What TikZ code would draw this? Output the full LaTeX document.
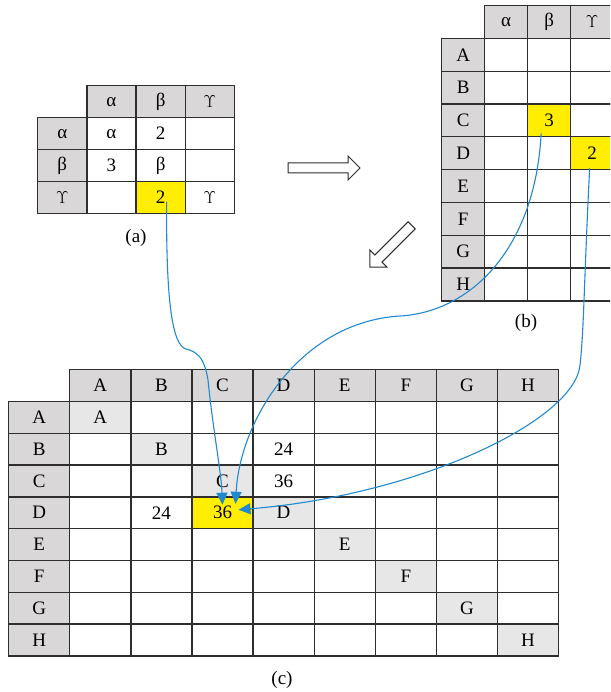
\documentclass[tikz,border=0pt]{standalone}
\usepackage{fontspec}
\setmainfont{Liberation Serif}
\usepackage{tikz}
\usepackage{xcolor}
\usetikzlibrary{arrows.meta, positioning, calc}
\definecolor{hdrgray}{HTML}{D9D7D8}
\definecolor{diaggray}{HTML}{E7E7E7}
\definecolor{hotyellow}{HTML}{FFEE00}
\definecolor{linkblue}{HTML}{2089D0}
\definecolor{gridline}{HTML}{2E2E2E}
\tikzstyle{cell} = [draw=gridline, line width=1.3pt, rectangle, anchor=north west, inner sep=0pt, fill=white, font=\fontsize{19}{21}\selectfont]
\tikzstyle{hdr} = [cell, fill=hdrgray]
\tikzstyle{diag} = [cell, fill=diaggray]
\tikzstyle{hot} = [cell, fill=hotyellow]
\tikzstyle{caption} = [font=\fontsize{19}{21}\selectfont]
\tikzstyle{link} = [draw=linkblue, line width=1.1pt, -{Triangle[length=12pt, width=11pt]}]
\tikzstyle{bigarrow} = [draw=gridline, line width=1pt, fill=white, line join=miter]

\begin{document}
\begin{tikzpicture}[x=1pt, y=-1pt,
    sa/.style={minimum width=49.2pt, minimum height=32pt},
    sb/.style={minimum width=43pt, minimum height=32.8pt},
    sc/.style={minimum width=61.1pt, minimum height=31.8pt}]
    \useasboundingbox (0,0) rectangle (610,692);
    \clip (0,0) rectangle (610,692);

    % table (a)
    \foreach \i in {1,2,3}
        \foreach \j in {1,2,3}
            \node (a-\i-\j) [cell, sa] at ({37+\j*49.2},{85+\i*32}) {};
    \foreach \lab [count=\i] in {α,β,$\Upsilon$} {
        \node (a-0-\i) [hdr, sa] at ({37+\i*49.2},85) {\lab};
        \node (a-\i-0) [hdr, sa] at (37,{85+\i*32}) {\lab};
    }
    \foreach \i/\j/\txt in {1/1/α, 1/2/2, 2/1/3, 2/2/β, 3/3/$\Upsilon$}
        \node (a-\i-\j) [cell, sa] at ({37+\j*49.2},{85+\i*32}) {\txt};
    \node (a-3-2) [hot, sa] at ({37+2*49.2},{85+3*32}) {2};
    \node (capa) [caption] at (136,238) {(a)};

    % table (b)
    \foreach \i in {1,...,8}
        \foreach \j in {1,2,3}
            \node (b-\i-\j) [cell, sb] at ({441+\j*43},{5+\i*32.8}) {};
    \foreach \lab [count=\j] in {α,β,$\Upsilon$}
        \node (b-0-\j) [hdr, sb] at ({441+\j*43},5) {\lab};
    \foreach \lab [count=\i] in {A,B,C,D,E,F,G,H}
        \node (b-\i-0) [hdr, sb] at (441,{5+\i*32.8}) {\lab};
    \node (b-3-2) [hot, sb] at ({441+2*43},{5+3*32.8}) {3};
    \node (b-4-3) [hot, sb] at ({441+3*43},{5+4*32.8}) {2};
    \node (capb) [caption] at (526,323) {(b)};

    % table (c)
    \foreach \i in {1,...,8}
        \foreach \j in {1,...,8}
            \node (c-\i-\j) [cell, sc] at ({8+\j*61.1},{369+\i*31.8}) {};
    \foreach \lab [count=\i] in {A,B,C,D,E,F,G,H} {
        \node (c-0-\i) [hdr, sc] at ({8+\i*61.1},369) {\lab};
        \node (c-\i-0) [hdr, sc] at (8,{369+\i*31.8}) {\lab};
        \node (c-\i-\i) [diag, sc] at ({8+\i*61.1},{369+\i*31.8}) {\lab};
    }
    \foreach \i/\j/\txt in {2/4/24, 3/4/36, 4/2/24}
        \node (c-\i-\j) [cell, sc] at ({8+\j*61.1},{369+\i*31.8}) {\txt};
    \node (c-4-3) [hot, sc] at ({8+3*61.1},{369+4*31.8}) {36};
    \node (capc) [caption] at (282,680) {(c)};

    % hollow arrows between the tables
    \draw [bigarrow] (288,163) -- (348,163) -- (348,156) -- (360,168)
        -- (348,180) -- (348,173) -- (288,173) -- cycle;
    \draw [bigarrow, shift={(411.7,225.3)}, rotate=225] (0,-5) -- (47,-5)
        -- (47,-12) -- (59,0) -- (47,12) -- (47,5) -- (0,5) -- cycle;

    % links into the merged cell
    \draw [link] ($(a-3-2.center)+(6,4)$) .. controls (166,300) and (172,345) .. (186,349)
        .. controls (200,352) and (205,362) .. (208,380)
        .. controls (213,430) and (221,470) .. ($(c-4-3.center)+(0,-8)$);
    \draw [link] ($(b-3-2.center)+(-8,13)$) .. controls (535,250) and (470,312) .. (400,316)
        .. controls (300,322) and (240,420) .. ($(c-4-3.center)+(13,-9)$);
    \draw [link] ($(b-4-3.center)+(-2.5,15)$) .. controls (584,280) and (584,330) .. (580,365)
        .. controls (575,420) and (420,495) .. ($(c-4-3.center)+(16,-3)$);
\end{tikzpicture}
\end{document}
